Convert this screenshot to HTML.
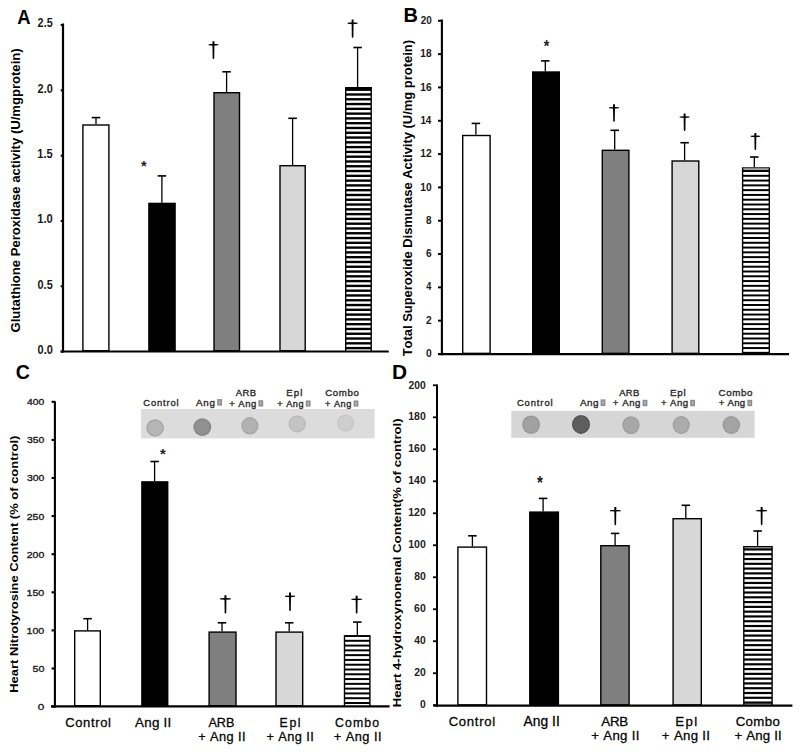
<!DOCTYPE html>
<html><head><meta charset="utf-8"><style>
html,body{margin:0;padding:0;background:#fff;}
body{width:800px;height:752px;position:relative;overflow:hidden;font-family:"Liberation Sans",sans-serif;}
</style></head><body>
<svg width="800" height="752" viewBox="0 0 800 752" style="position:absolute;left:0;top:0;font-family:'Liberation Sans',sans-serif;font-kerning:none">
<rect width="800" height="752" fill="#fff"/>
<defs><filter id="soft" x="-20%" y="-20%" width="140%" height="140%"><feGaussianBlur stdDeviation="0.7"/></filter></defs>
<text transform="translate(37.62,27.30) scale(0.902,1)" font-size="12.03" font-weight="bold" fill="#1a1a1a" >2.5</text>
<text transform="translate(37.62,92.62) scale(0.911,1)" font-size="12.03" font-weight="bold" fill="#1a1a1a" >2.0</text>
<text transform="translate(37.30,157.94) scale(0.908,1)" font-size="12.21" font-weight="bold" fill="#1a1a1a" >1.5</text>
<text transform="translate(37.29,223.26) scale(0.931,1)" font-size="12.03" font-weight="bold" fill="#1a1a1a" >1.0</text>
<text transform="translate(37.57,288.58) scale(0.905,1)" font-size="12.03" font-weight="bold" fill="#1a1a1a" >0.5</text>
<text transform="translate(37.57,353.90) scale(0.914,1)" font-size="12.03" font-weight="bold" fill="#1a1a1a" >0.0</text>
<text transform="translate(17.14,24.20) scale(0.908,1)" font-size="20.35" font-weight="bold" fill="#000" >A</text>
<text transform="translate(20.42,332.54) rotate(-90) scale(1.076,1)" font-size="12.17" font-weight="bold" fill="#000">Glutathione Peroxidase activity (U/mgprotein)</text>
<rect x="82.90" y="125.00" width="26.00" height="225.80" fill="#fff" stroke="#000" stroke-width="1.4"/>
<line x1="96.00" y1="117.60" x2="96.00" y2="124.30" stroke="#000" stroke-width="1.3"/>
<line x1="91.75" y1="117.60" x2="100.25" y2="117.60" stroke="#000" stroke-width="1.6"/>
<rect x="148.90" y="203.40" width="26.20" height="147.40" fill="#000" stroke="#000" stroke-width="1.4"/>
<line x1="161.90" y1="175.90" x2="161.90" y2="202.70" stroke="#000" stroke-width="1.3"/>
<line x1="157.65" y1="175.90" x2="166.15" y2="175.90" stroke="#000" stroke-width="1.6"/>
<rect x="214.00" y="92.70" width="25.50" height="258.10" fill="#7f7f7f" stroke="#000" stroke-width="1.4"/>
<line x1="226.60" y1="71.80" x2="226.60" y2="92.00" stroke="#000" stroke-width="1.3"/>
<line x1="222.35" y1="71.80" x2="230.85" y2="71.80" stroke="#000" stroke-width="1.6"/>
<rect x="280.00" y="165.70" width="25.20" height="185.10" fill="#d7d7d7" stroke="#000" stroke-width="1.4"/>
<line x1="292.60" y1="118.30" x2="292.60" y2="165.00" stroke="#000" stroke-width="1.3"/>
<line x1="288.35" y1="118.30" x2="296.85" y2="118.30" stroke="#000" stroke-width="1.6"/>
<rect x="345.00" y="87.00" width="26.90" height="264.50" fill="#000"/>
<rect x="346.40" y="90.90" width="24.10" height="2.40" fill="#fff"/>
<rect x="346.40" y="95.68" width="24.10" height="2.40" fill="#fff"/>
<rect x="346.40" y="100.47" width="24.10" height="2.40" fill="#fff"/>
<rect x="346.40" y="105.25" width="24.10" height="2.40" fill="#fff"/>
<rect x="346.40" y="110.04" width="24.10" height="2.40" fill="#fff"/>
<rect x="346.40" y="114.82" width="24.10" height="2.40" fill="#fff"/>
<rect x="346.40" y="119.61" width="24.10" height="2.40" fill="#fff"/>
<rect x="346.40" y="124.39" width="24.10" height="2.40" fill="#fff"/>
<rect x="346.40" y="129.18" width="24.10" height="2.40" fill="#fff"/>
<rect x="346.40" y="133.96" width="24.10" height="2.40" fill="#fff"/>
<rect x="346.40" y="138.75" width="24.10" height="2.40" fill="#fff"/>
<rect x="346.40" y="143.53" width="24.10" height="2.40" fill="#fff"/>
<rect x="346.40" y="148.32" width="24.10" height="2.40" fill="#fff"/>
<rect x="346.40" y="153.10" width="24.10" height="2.40" fill="#fff"/>
<rect x="346.40" y="157.89" width="24.10" height="2.40" fill="#fff"/>
<rect x="346.40" y="162.67" width="24.10" height="2.40" fill="#fff"/>
<rect x="346.40" y="167.46" width="24.10" height="2.40" fill="#fff"/>
<rect x="346.40" y="172.24" width="24.10" height="2.40" fill="#fff"/>
<rect x="346.40" y="177.03" width="24.10" height="2.40" fill="#fff"/>
<rect x="346.40" y="181.81" width="24.10" height="2.40" fill="#fff"/>
<rect x="346.40" y="186.60" width="24.10" height="2.40" fill="#fff"/>
<rect x="346.40" y="191.38" width="24.10" height="2.40" fill="#fff"/>
<rect x="346.40" y="196.17" width="24.10" height="2.40" fill="#fff"/>
<rect x="346.40" y="200.95" width="24.10" height="2.40" fill="#fff"/>
<rect x="346.40" y="205.74" width="24.10" height="2.40" fill="#fff"/>
<rect x="346.40" y="210.52" width="24.10" height="2.40" fill="#fff"/>
<rect x="346.40" y="215.31" width="24.10" height="2.40" fill="#fff"/>
<rect x="346.40" y="220.09" width="24.10" height="2.40" fill="#fff"/>
<rect x="346.40" y="224.88" width="24.10" height="2.40" fill="#fff"/>
<rect x="346.40" y="229.66" width="24.10" height="2.40" fill="#fff"/>
<rect x="346.40" y="234.45" width="24.10" height="2.40" fill="#fff"/>
<rect x="346.40" y="239.23" width="24.10" height="2.40" fill="#fff"/>
<rect x="346.40" y="244.02" width="24.10" height="2.40" fill="#fff"/>
<rect x="346.40" y="248.80" width="24.10" height="2.40" fill="#fff"/>
<rect x="346.40" y="253.59" width="24.10" height="2.40" fill="#fff"/>
<rect x="346.40" y="258.37" width="24.10" height="2.40" fill="#fff"/>
<rect x="346.40" y="263.16" width="24.10" height="2.40" fill="#fff"/>
<rect x="346.40" y="267.94" width="24.10" height="2.40" fill="#fff"/>
<rect x="346.40" y="272.73" width="24.10" height="2.40" fill="#fff"/>
<rect x="346.40" y="277.51" width="24.10" height="2.40" fill="#fff"/>
<rect x="346.40" y="282.30" width="24.10" height="2.40" fill="#fff"/>
<rect x="346.40" y="287.09" width="24.10" height="2.40" fill="#fff"/>
<rect x="346.40" y="291.87" width="24.10" height="2.40" fill="#fff"/>
<rect x="346.40" y="296.66" width="24.10" height="2.40" fill="#fff"/>
<rect x="346.40" y="301.44" width="24.10" height="2.40" fill="#fff"/>
<rect x="346.40" y="306.23" width="24.10" height="2.40" fill="#fff"/>
<rect x="346.40" y="311.01" width="24.10" height="2.40" fill="#fff"/>
<rect x="346.40" y="315.80" width="24.10" height="2.40" fill="#fff"/>
<rect x="346.40" y="320.58" width="24.10" height="2.40" fill="#fff"/>
<rect x="346.40" y="325.37" width="24.10" height="2.40" fill="#fff"/>
<rect x="346.40" y="330.15" width="24.10" height="2.40" fill="#fff"/>
<rect x="346.40" y="334.94" width="24.10" height="2.40" fill="#fff"/>
<rect x="346.40" y="339.72" width="24.10" height="2.40" fill="#fff"/>
<rect x="346.40" y="344.51" width="24.10" height="2.40" fill="#fff"/>
<rect x="346.40" y="349.29" width="24.10" height="2.21" fill="#fff"/>
<line x1="357.60" y1="47.50" x2="357.60" y2="87.00" stroke="#000" stroke-width="1.3"/>
<line x1="353.35" y1="47.50" x2="361.85" y2="47.50" stroke="#000" stroke-width="1.6"/>
<text transform="translate(140.96,170.59) scale(1.002,1)" font-size="14.51" font-weight="bold" fill="#222" >*</text>
<polygon points="212.45,41.20 214.45,41.20 214.25,57.80 213.90,59.00 213.00,59.00 212.65,57.80" fill="#000"/>
<polygon points="208.60,44.25 213.45,43.87 218.30,44.25 218.30,45.27 213.45,45.65 208.60,45.27" fill="#000"/>
<polygon points="351.60,19.60 353.60,19.60 353.40,36.60 353.05,37.80 352.15,37.80 351.80,36.60" fill="#000"/>
<polygon points="347.60,22.73 352.60,22.35 357.60,22.73 357.60,23.75 352.60,24.13 347.60,23.75" fill="#000"/>
<text transform="translate(420.66,23.90) scale(0.901,1)" font-size="11.03" font-weight="bold" fill="#1a1a1a" >20</text>
<text transform="translate(420.36,57.22) scale(0.917,1)" font-size="11.03" font-weight="bold" fill="#1a1a1a" >18</text>
<text transform="translate(420.36,90.54) scale(0.922,1)" font-size="11.03" font-weight="bold" fill="#1a1a1a" >16</text>
<text transform="translate(420.38,123.86) scale(0.882,1)" font-size="11.19" font-weight="bold" fill="#1a1a1a" >14</text>
<text transform="translate(420.36,157.18) scale(0.925,1)" font-size="11.03" font-weight="bold" fill="#1a1a1a" >12</text>
<text transform="translate(420.36,190.50) scale(0.926,1)" font-size="11.03" font-weight="bold" fill="#1a1a1a" >10</text>
<text transform="translate(426.08,223.82) scale(0.900,1)" font-size="11.03" font-weight="bold" fill="#1a1a1a" >8</text>
<text transform="translate(426.03,257.14) scale(0.919,1)" font-size="11.03" font-weight="bold" fill="#1a1a1a" >6</text>
<text transform="translate(426.26,290.46) scale(0.817,1)" font-size="11.19" font-weight="bold" fill="#1a1a1a" >4</text>
<text transform="translate(426.05,323.78) scale(0.923,1)" font-size="11.03" font-weight="bold" fill="#1a1a1a" >2</text>
<text transform="translate(425.99,357.10) scale(0.934,1)" font-size="11.03" font-weight="bold" fill="#1a1a1a" >0</text>
<text transform="translate(403.46,21.60) scale(1.035,1)" font-size="19.33" font-weight="bold" fill="#000" >B</text>
<text transform="translate(412.18,356.35) rotate(-90) scale(1.046,1)" font-size="12.39" font-weight="bold" fill="#000">Total Superoxide Dismutase Activity (U/mg protein)</text>
<rect x="462.70" y="135.50" width="27.40" height="217.85" fill="#fff" stroke="#000" stroke-width="1.4"/>
<line x1="475.90" y1="123.40" x2="475.90" y2="134.80" stroke="#000" stroke-width="1.3"/>
<line x1="471.65" y1="123.40" x2="480.15" y2="123.40" stroke="#000" stroke-width="1.6"/>
<rect x="532.70" y="72.00" width="26.60" height="281.35" fill="#000" stroke="#000" stroke-width="1.4"/>
<line x1="545.30" y1="60.90" x2="545.30" y2="71.30" stroke="#000" stroke-width="1.3"/>
<line x1="541.05" y1="60.90" x2="549.55" y2="60.90" stroke="#000" stroke-width="1.6"/>
<rect x="602.30" y="150.30" width="26.60" height="203.05" fill="#7f7f7f" stroke="#000" stroke-width="1.4"/>
<line x1="614.70" y1="130.30" x2="614.70" y2="149.60" stroke="#000" stroke-width="1.3"/>
<line x1="610.45" y1="130.30" x2="618.95" y2="130.30" stroke="#000" stroke-width="1.6"/>
<rect x="672.10" y="161.00" width="26.70" height="192.35" fill="#d7d7d7" stroke="#000" stroke-width="1.4"/>
<line x1="684.60" y1="142.70" x2="684.60" y2="160.30" stroke="#000" stroke-width="1.3"/>
<line x1="680.35" y1="142.70" x2="688.85" y2="142.70" stroke="#000" stroke-width="1.6"/>
<rect x="741.90" y="167.30" width="28.10" height="186.75" fill="#000"/>
<rect x="743.30" y="168.20" width="25.30" height="1.81" fill="#a8a8a8"/>
<rect x="743.30" y="172.00" width="25.30" height="2.80" fill="#fff"/>
<rect x="743.30" y="176.78" width="25.30" height="2.80" fill="#fff"/>
<rect x="743.30" y="181.57" width="25.30" height="2.80" fill="#fff"/>
<rect x="743.30" y="186.35" width="25.30" height="2.80" fill="#fff"/>
<rect x="743.30" y="191.14" width="25.30" height="2.80" fill="#fff"/>
<rect x="743.30" y="195.92" width="25.30" height="2.80" fill="#fff"/>
<rect x="743.30" y="200.71" width="25.30" height="2.80" fill="#fff"/>
<rect x="743.30" y="205.49" width="25.30" height="2.80" fill="#fff"/>
<rect x="743.30" y="210.28" width="25.30" height="2.80" fill="#fff"/>
<rect x="743.30" y="215.06" width="25.30" height="2.80" fill="#fff"/>
<rect x="743.30" y="219.85" width="25.30" height="2.80" fill="#fff"/>
<rect x="743.30" y="224.63" width="25.30" height="2.80" fill="#fff"/>
<rect x="743.30" y="229.42" width="25.30" height="2.80" fill="#fff"/>
<rect x="743.30" y="234.20" width="25.30" height="2.80" fill="#fff"/>
<rect x="743.30" y="238.99" width="25.30" height="2.80" fill="#fff"/>
<rect x="743.30" y="243.77" width="25.30" height="2.80" fill="#fff"/>
<rect x="743.30" y="248.56" width="25.30" height="2.80" fill="#fff"/>
<rect x="743.30" y="253.34" width="25.30" height="2.80" fill="#fff"/>
<rect x="743.30" y="258.13" width="25.30" height="2.80" fill="#fff"/>
<rect x="743.30" y="262.92" width="25.30" height="2.80" fill="#fff"/>
<rect x="743.30" y="267.70" width="25.30" height="2.80" fill="#fff"/>
<rect x="743.30" y="272.49" width="25.30" height="2.80" fill="#fff"/>
<rect x="743.30" y="277.27" width="25.30" height="2.80" fill="#fff"/>
<rect x="743.30" y="282.06" width="25.30" height="2.80" fill="#fff"/>
<rect x="743.30" y="286.84" width="25.30" height="2.80" fill="#fff"/>
<rect x="743.30" y="291.63" width="25.30" height="2.80" fill="#fff"/>
<rect x="743.30" y="296.41" width="25.30" height="2.80" fill="#fff"/>
<rect x="743.30" y="301.20" width="25.30" height="2.80" fill="#fff"/>
<rect x="743.30" y="305.98" width="25.30" height="2.80" fill="#fff"/>
<rect x="743.30" y="310.77" width="25.30" height="2.80" fill="#fff"/>
<rect x="743.30" y="315.55" width="25.30" height="2.80" fill="#fff"/>
<rect x="743.30" y="320.34" width="25.30" height="2.80" fill="#fff"/>
<rect x="743.30" y="325.12" width="25.30" height="2.80" fill="#fff"/>
<rect x="743.30" y="329.91" width="25.30" height="2.80" fill="#fff"/>
<rect x="743.30" y="334.69" width="25.30" height="2.80" fill="#fff"/>
<rect x="743.30" y="339.48" width="25.30" height="2.80" fill="#fff"/>
<rect x="743.30" y="344.26" width="25.30" height="2.80" fill="#fff"/>
<rect x="743.30" y="349.05" width="25.30" height="2.80" fill="#fff"/>
<rect x="743.30" y="353.83" width="25.30" height="0.22" fill="#a8a8a8"/>
<line x1="754.30" y1="157.00" x2="754.30" y2="167.30" stroke="#000" stroke-width="1.3"/>
<line x1="750.05" y1="157.00" x2="758.55" y2="157.00" stroke="#000" stroke-width="1.6"/>
<text transform="translate(543.76,51.69) scale(0.885,1)" font-size="16.13" font-weight="bold" fill="#222" >*</text>
<polygon points="613.00,104.30 615.00,104.30 614.80,120.60 614.45,121.80 613.55,121.80 613.20,120.60" fill="#000"/>
<polygon points="609.00,107.29 614.00,106.91 619.00,107.29 619.00,108.31 614.00,108.69 609.00,108.31" fill="#000"/>
<polygon points="683.60,113.60 685.60,113.60 685.40,129.70 685.05,130.90 684.15,130.90 683.80,129.70" fill="#000"/>
<polygon points="679.70,116.55 684.60,116.17 689.50,116.55 689.50,117.57 684.60,117.95 679.70,117.57" fill="#000"/>
<polygon points="754.35,132.90 756.35,132.90 756.15,148.90 755.80,150.10 754.90,150.10 754.55,148.90" fill="#000"/>
<polygon points="750.60,135.83 755.35,135.45 760.10,135.83 760.10,136.85 755.35,137.23 750.60,136.85" fill="#000"/>
<text transform="translate(27.06,405.20) scale(1.061,1)" font-size="9.74" font-weight="normal" fill="#1a1a1a" stroke="#1a1a1a" stroke-width="0.35">400</text>
<text transform="translate(26.90,443.30) scale(1.071,1)" font-size="9.74" font-weight="normal" fill="#1a1a1a" stroke="#1a1a1a" stroke-width="0.35">350</text>
<text transform="translate(26.90,481.40) scale(1.071,1)" font-size="9.74" font-weight="normal" fill="#1a1a1a" stroke="#1a1a1a" stroke-width="0.35">300</text>
<text transform="translate(26.77,519.50) scale(1.079,1)" font-size="9.74" font-weight="normal" fill="#1a1a1a" stroke="#1a1a1a" stroke-width="0.35">250</text>
<text transform="translate(26.77,557.60) scale(1.079,1)" font-size="9.74" font-weight="normal" fill="#1a1a1a" stroke="#1a1a1a" stroke-width="0.35">200</text>
<text transform="translate(26.49,595.70) scale(1.097,1)" font-size="9.74" font-weight="normal" fill="#1a1a1a" stroke="#1a1a1a" stroke-width="0.35">150</text>
<text transform="translate(26.49,633.80) scale(1.097,1)" font-size="9.74" font-weight="normal" fill="#1a1a1a" stroke="#1a1a1a" stroke-width="0.35">100</text>
<text transform="translate(32.47,671.90) scale(1.093,1)" font-size="9.74" font-weight="normal" fill="#1a1a1a" stroke="#1a1a1a" stroke-width="0.35">50</text>
<text transform="translate(37.84,710.00) scale(1.203,1)" font-size="9.74" font-weight="normal" fill="#1a1a1a" stroke="#1a1a1a" stroke-width="0.35">0</text>
<text transform="translate(15.70,379.00) scale(0.976,1)" font-size="20.05" font-weight="bold" fill="#000" >C</text>
<text transform="translate(18.48,692.87) rotate(-90) scale(1.164,1)" font-size="11.16" font-weight="bold" fill="#000">Heart Nitrotyrosine Content (% of control)</text>
<rect x="74.70" y="630.90" width="25.60" height="74.80" fill="#fff" stroke="#000" stroke-width="1.4"/>
<line x1="87.60" y1="618.70" x2="87.60" y2="630.20" stroke="#000" stroke-width="1.3"/>
<line x1="83.35" y1="618.70" x2="91.85" y2="618.70" stroke="#000" stroke-width="1.6"/>
<rect x="141.90" y="481.90" width="25.80" height="223.80" fill="#000" stroke="#000" stroke-width="1.4"/>
<line x1="154.60" y1="461.50" x2="154.60" y2="481.20" stroke="#000" stroke-width="1.3"/>
<line x1="150.35" y1="461.50" x2="158.85" y2="461.50" stroke="#000" stroke-width="1.6"/>
<rect x="209.10" y="632.10" width="26.90" height="73.60" fill="#7f7f7f" stroke="#000" stroke-width="1.4"/>
<line x1="222.00" y1="622.80" x2="222.00" y2="631.40" stroke="#000" stroke-width="1.3"/>
<line x1="217.75" y1="622.80" x2="226.25" y2="622.80" stroke="#000" stroke-width="1.6"/>
<rect x="276.00" y="632.10" width="26.70" height="73.60" fill="#d7d7d7" stroke="#000" stroke-width="1.4"/>
<line x1="289.20" y1="622.80" x2="289.20" y2="631.40" stroke="#000" stroke-width="1.3"/>
<line x1="284.95" y1="622.80" x2="293.45" y2="622.80" stroke="#000" stroke-width="1.6"/>
<rect x="343.80" y="635.05" width="26.80" height="71.35" fill="#000"/>
<rect x="345.20" y="637.00" width="24.00" height="2.80" fill="#fff"/>
<rect x="345.20" y="641.78" width="24.00" height="2.80" fill="#fff"/>
<rect x="345.20" y="646.57" width="24.00" height="2.80" fill="#fff"/>
<rect x="345.20" y="651.35" width="24.00" height="2.80" fill="#fff"/>
<rect x="345.20" y="656.14" width="24.00" height="2.80" fill="#fff"/>
<rect x="345.20" y="660.92" width="24.00" height="2.80" fill="#fff"/>
<rect x="345.20" y="665.71" width="24.00" height="2.80" fill="#fff"/>
<rect x="345.20" y="670.49" width="24.00" height="2.80" fill="#fff"/>
<rect x="345.20" y="675.28" width="24.00" height="2.80" fill="#fff"/>
<rect x="345.20" y="680.06" width="24.00" height="2.80" fill="#fff"/>
<rect x="345.20" y="684.85" width="24.00" height="2.80" fill="#fff"/>
<rect x="345.20" y="689.63" width="24.00" height="2.80" fill="#fff"/>
<rect x="345.20" y="694.42" width="24.00" height="2.80" fill="#fff"/>
<rect x="345.20" y="699.20" width="24.00" height="2.80" fill="#fff"/>
<rect x="345.20" y="703.99" width="24.00" height="2.41" fill="#fff"/>
<line x1="357.30" y1="622.10" x2="357.30" y2="635.05" stroke="#000" stroke-width="1.3"/>
<line x1="353.05" y1="622.10" x2="361.55" y2="622.10" stroke="#000" stroke-width="1.6"/>
<text transform="translate(159.96,458.93) scale(1.060,1)" font-size="13.71" font-weight="bold" fill="#222" >*</text>
<polygon points="224.45,595.20 226.45,595.20 226.25,612.40 225.90,613.60 225.00,613.60 224.65,612.40" fill="#000"/>
<polygon points="220.20,598.37 225.45,597.99 230.70,598.37 230.70,599.39 225.45,599.77 220.20,599.39" fill="#000"/>
<polygon points="289.00,592.60 291.00,592.60 290.80,609.80 290.45,611.00 289.55,611.00 289.20,609.80" fill="#000"/>
<polygon points="285.00,595.77 290.00,595.39 295.00,595.77 295.00,596.79 290.00,597.17 285.00,596.79" fill="#000"/>
<polygon points="355.65,595.70 357.65,595.70 357.45,612.40 357.10,613.60 356.20,613.60 355.85,612.40" fill="#000"/>
<polygon points="351.40,598.77 356.65,598.39 361.90,598.77 361.90,599.79 356.65,600.17 351.40,599.79" fill="#000"/>
<text transform="translate(408.54,388.50) scale(0.972,1)" font-size="10.60" font-weight="bold" fill="#222" >200</text>
<text transform="translate(408.24,420.49) scale(0.989,1)" font-size="10.60" font-weight="bold" fill="#222" >180</text>
<text transform="translate(408.24,452.48) scale(0.989,1)" font-size="10.60" font-weight="bold" fill="#222" >160</text>
<text transform="translate(408.24,484.47) scale(0.989,1)" font-size="10.60" font-weight="bold" fill="#222" >140</text>
<text transform="translate(408.24,516.46) scale(0.989,1)" font-size="10.60" font-weight="bold" fill="#222" >120</text>
<text transform="translate(408.24,548.45) scale(0.989,1)" font-size="10.60" font-weight="bold" fill="#222" >100</text>
<text transform="translate(414.17,580.44) scale(0.980,1)" font-size="10.60" font-weight="bold" fill="#222" >80</text>
<text transform="translate(414.12,612.43) scale(0.985,1)" font-size="10.60" font-weight="bold" fill="#222" >60</text>
<text transform="translate(414.35,644.42) scale(0.965,1)" font-size="10.60" font-weight="bold" fill="#222" >40</text>
<text transform="translate(414.14,676.41) scale(0.983,1)" font-size="10.60" font-weight="bold" fill="#222" >20</text>
<text transform="translate(419.99,708.40) scale(0.972,1)" font-size="10.60" font-weight="bold" fill="#222" >0</text>
<text transform="translate(392.10,378.90) scale(1.056,1)" font-size="19.77" font-weight="bold" fill="#000" >D</text>
<text transform="translate(400.55,707.28) rotate(-90) scale(1.116,1)" font-size="11.80" font-weight="bold" fill="#000">Heart 4-hydroxynonenal Content(% of control)</text>
<rect x="457.90" y="547.10" width="28.60" height="157.80" fill="#fff" stroke="#000" stroke-width="1.4"/>
<line x1="472.40" y1="535.80" x2="472.40" y2="546.40" stroke="#000" stroke-width="1.3"/>
<line x1="468.15" y1="535.80" x2="476.65" y2="535.80" stroke="#000" stroke-width="1.6"/>
<rect x="529.80" y="512.10" width="28.60" height="192.80" fill="#000" stroke="#000" stroke-width="1.4"/>
<line x1="543.10" y1="498.40" x2="543.10" y2="511.40" stroke="#000" stroke-width="1.3"/>
<line x1="538.85" y1="498.40" x2="547.35" y2="498.40" stroke="#000" stroke-width="1.6"/>
<rect x="600.80" y="545.70" width="28.30" height="159.20" fill="#7f7f7f" stroke="#000" stroke-width="1.4"/>
<line x1="615.10" y1="533.40" x2="615.10" y2="545.00" stroke="#000" stroke-width="1.3"/>
<line x1="610.85" y1="533.40" x2="619.35" y2="533.40" stroke="#000" stroke-width="1.6"/>
<rect x="673.10" y="518.70" width="28.20" height="186.20" fill="#d7d7d7" stroke="#000" stroke-width="1.4"/>
<line x1="685.80" y1="505.30" x2="685.80" y2="518.00" stroke="#000" stroke-width="1.3"/>
<line x1="681.55" y1="505.30" x2="690.05" y2="505.30" stroke="#000" stroke-width="1.6"/>
<rect x="743.10" y="546.00" width="29.70" height="159.60" fill="#000"/>
<rect x="744.50" y="547.20" width="26.90" height="1.16" fill="#a8a8a8"/>
<rect x="744.50" y="550.55" width="26.90" height="2.60" fill="#fff"/>
<rect x="744.50" y="555.34" width="26.90" height="2.60" fill="#fff"/>
<rect x="744.50" y="560.12" width="26.90" height="2.60" fill="#fff"/>
<rect x="744.50" y="564.90" width="26.90" height="2.60" fill="#fff"/>
<rect x="744.50" y="569.69" width="26.90" height="2.60" fill="#fff"/>
<rect x="744.50" y="574.47" width="26.90" height="2.60" fill="#fff"/>
<rect x="744.50" y="579.26" width="26.90" height="2.60" fill="#fff"/>
<rect x="744.50" y="584.04" width="26.90" height="2.60" fill="#fff"/>
<rect x="744.50" y="588.83" width="26.90" height="2.60" fill="#fff"/>
<rect x="744.50" y="593.61" width="26.90" height="2.60" fill="#fff"/>
<rect x="744.50" y="598.40" width="26.90" height="2.60" fill="#fff"/>
<rect x="744.50" y="603.18" width="26.90" height="2.60" fill="#fff"/>
<rect x="744.50" y="607.97" width="26.90" height="2.60" fill="#fff"/>
<rect x="744.50" y="612.75" width="26.90" height="2.60" fill="#fff"/>
<rect x="744.50" y="617.54" width="26.90" height="2.60" fill="#fff"/>
<rect x="744.50" y="622.32" width="26.90" height="2.60" fill="#fff"/>
<rect x="744.50" y="627.11" width="26.90" height="2.60" fill="#fff"/>
<rect x="744.50" y="631.89" width="26.90" height="2.60" fill="#fff"/>
<rect x="744.50" y="636.68" width="26.90" height="2.60" fill="#fff"/>
<rect x="744.50" y="641.46" width="26.90" height="2.60" fill="#fff"/>
<rect x="744.50" y="646.25" width="26.90" height="2.60" fill="#fff"/>
<rect x="744.50" y="651.03" width="26.90" height="2.60" fill="#fff"/>
<rect x="744.50" y="655.82" width="26.90" height="2.60" fill="#fff"/>
<rect x="744.50" y="660.60" width="26.90" height="2.60" fill="#fff"/>
<rect x="744.50" y="665.39" width="26.90" height="2.60" fill="#fff"/>
<rect x="744.50" y="670.17" width="26.90" height="2.60" fill="#fff"/>
<rect x="744.50" y="674.96" width="26.90" height="2.60" fill="#fff"/>
<rect x="744.50" y="679.74" width="26.90" height="2.60" fill="#fff"/>
<rect x="744.50" y="684.53" width="26.90" height="2.60" fill="#fff"/>
<rect x="744.50" y="689.31" width="26.90" height="2.60" fill="#fff"/>
<rect x="744.50" y="694.10" width="26.90" height="2.60" fill="#fff"/>
<rect x="744.50" y="698.88" width="26.90" height="2.60" fill="#fff"/>
<rect x="744.50" y="703.67" width="26.90" height="1.93" fill="#a8a8a8"/>
<line x1="757.60" y1="531.00" x2="757.60" y2="546.00" stroke="#000" stroke-width="1.3"/>
<line x1="753.35" y1="531.00" x2="761.85" y2="531.00" stroke="#000" stroke-width="1.6"/>
<text transform="translate(536.96,488.50) scale(0.849,1)" font-size="17.74" font-weight="bold" fill="#222" >*</text>
<polygon points="614.30,507.10 616.30,507.10 616.10,524.00 615.75,525.20 614.85,525.20 614.50,524.00" fill="#000"/>
<polygon points="609.90,510.21 615.30,509.83 620.70,510.21 620.70,511.23 615.30,511.61 609.90,511.23" fill="#000"/>
<polygon points="760.65,507.10 762.65,507.10 762.45,524.00 762.10,525.20 761.20,525.20 760.85,524.00" fill="#000"/>
<polygon points="756.20,510.21 761.65,509.83 767.10,510.21 767.10,511.23 761.65,511.61 756.20,511.23" fill="#000"/>
<text x="65.14" y="726.80" font-size="12.97" font-weight="normal" fill="#000" letter-spacing="0.67" stroke="#111" stroke-width="0.3">Control</text>
<text x="135.07" y="726.80" font-size="13.37" font-weight="normal" fill="#000" letter-spacing="0.26" stroke="#111" stroke-width="0.3">Ang II</text>
<text x="208.38" y="726.90" font-size="12.65" font-weight="normal" fill="#000" letter-spacing="0.05" stroke="#111" stroke-width="0.3">ARB</text>
<text x="198.28" y="741.20" font-size="12.79" font-weight="normal" fill="#000" letter-spacing="0.41" stroke="#111" stroke-width="0.3">+ Ang II</text>
<text x="279.59" y="726.90" font-size="12.28" font-weight="normal" fill="#000" letter-spacing="1.64" stroke="#111" stroke-width="0.3">Epl</text>
<text x="266.58" y="741.20" font-size="12.79" font-weight="normal" fill="#000" letter-spacing="0.39" stroke="#111" stroke-width="0.3">+ Ang II</text>
<text x="335.08" y="726.90" font-size="12.28" font-weight="normal" fill="#000" letter-spacing="1.09" stroke="#111" stroke-width="0.3">Combo</text>
<text x="333.78" y="741.20" font-size="12.79" font-weight="normal" fill="#000" letter-spacing="0.47" stroke="#111" stroke-width="0.3">+ Ang II</text>
<text x="448.73" y="725.70" font-size="13.11" font-weight="normal" fill="#000" letter-spacing="0.68" stroke="#111" stroke-width="0.3">Control</text>
<text x="523.57" y="725.70" font-size="13.81" font-weight="normal" fill="#000" letter-spacing="0.04" stroke="#111" stroke-width="0.3">Ang II</text>
<text x="601.17" y="726.00" font-size="13.37" font-weight="normal" fill="#000" letter-spacing="-0.18" stroke="#111" stroke-width="0.3">ARB</text>
<text x="591.35" y="740.10" font-size="13.23" font-weight="normal" fill="#000" letter-spacing="0.30" stroke="#111" stroke-width="0.3">+ Ang II</text>
<text x="675.21" y="726.00" font-size="13.25" font-weight="normal" fill="#000" letter-spacing="1.41" stroke="#111" stroke-width="0.3">Epl</text>
<text x="661.85" y="740.10" font-size="13.23" font-weight="normal" fill="#000" letter-spacing="0.32" stroke="#111" stroke-width="0.3">+ Ang II</text>
<text x="735.63" y="726.00" font-size="13.25" font-weight="normal" fill="#000" letter-spacing="0.38" stroke="#111" stroke-width="0.3">Combo</text>
<text x="734.45" y="740.10" font-size="13.23" font-weight="normal" fill="#000" letter-spacing="0.19" stroke="#111" stroke-width="0.3">+ Ang II</text>
<rect x="141.00" y="409.00" width="233.60" height="29.40" fill="#dcdcdc"/>
<defs><radialGradient id="g155"><stop offset="0" stop-color="#b6b6b6"/><stop offset="0.75" stop-color="#b6b6b6"/><stop offset="1" stop-color="#9c9c9c"/></radialGradient></defs>
<ellipse cx="155.1" cy="427.9" rx="8.7" ry="8.7" fill="url(#g155)" filter="url(#soft)"/>
<defs><radialGradient id="g202"><stop offset="0" stop-color="#909090"/><stop offset="0.75" stop-color="#909090"/><stop offset="1" stop-color="#808080"/></radialGradient></defs>
<ellipse cx="202.3" cy="427.1" rx="9.0" ry="8.8" fill="url(#g202)" filter="url(#soft)"/>
<defs><radialGradient id="g249"><stop offset="0" stop-color="#b2b2b2"/><stop offset="0.75" stop-color="#b2b2b2"/><stop offset="1" stop-color="#a0a0a0"/></radialGradient></defs>
<ellipse cx="249.9" cy="425.8" rx="8.6" ry="8.7" fill="url(#g249)" filter="url(#soft)"/>
<defs><radialGradient id="g297"><stop offset="0" stop-color="#c4c4c4"/><stop offset="0.75" stop-color="#c4c4c4"/><stop offset="1" stop-color="#b4b4b4"/></radialGradient></defs>
<ellipse cx="297.2" cy="424.0" rx="8.6" ry="8.4" fill="url(#g297)" filter="url(#soft)"/>
<defs><radialGradient id="g345"><stop offset="0" stop-color="#cecece"/><stop offset="0.75" stop-color="#cecece"/><stop offset="1" stop-color="#c2c2c2"/></radialGradient></defs>
<ellipse cx="345.6" cy="423.0" rx="8.6" ry="8.6" fill="url(#g345)" filter="url(#soft)"/>
<text x="143.32" y="405.80" font-size="9.38" font-weight="normal" fill="#2a2a2a" letter-spacing="0.84" stroke="#2a2a2a" stroke-width="0.35">Control</text>
<text x="235.78" y="396.00" font-size="9.45" font-weight="normal" fill="#2a2a2a" letter-spacing="0.45" stroke="#2a2a2a" stroke-width="0.35">ARB</text>
<text x="286.21" y="396.00" font-size="9.66" font-weight="normal" fill="#2a2a2a" letter-spacing="1.14" stroke="#2a2a2a" stroke-width="0.35">Epl</text>
<text x="325.21" y="396.00" font-size="9.66" font-weight="normal" fill="#2a2a2a" letter-spacing="0.66" stroke="#2a2a2a" stroke-width="0.35">Combo</text>
<text x="195.98" y="405.60" font-size="9.74" font-weight="normal" fill="#2a2a2a" letter-spacing="0.86" stroke="#2a2a2a" stroke-width="0.35">Ang</text>
<rect x="217.20" y="399.10" width="4.80" height="6.50" fill="#8c8c8c"/>
<rect x="218.70" y="400.50" width="1.80" height="3.70" fill="#b0b0b0"/>
<text x="229.14" y="406.50" font-size="9.45" font-weight="normal" fill="#2a2a2a" letter-spacing="0.53" stroke="#2a2a2a" stroke-width="0.35">+ Ang</text>
<rect x="258.40" y="400.20" width="4.80" height="6.30" fill="#8c8c8c"/>
<rect x="259.90" y="401.60" width="1.80" height="3.50" fill="#b0b0b0"/>
<text x="277.35" y="406.60" font-size="9.16" font-weight="normal" fill="#2a2a2a" letter-spacing="0.51" stroke="#2a2a2a" stroke-width="0.35">+ Ang</text>
<rect x="305.80" y="400.50" width="4.80" height="6.10" fill="#8c8c8c"/>
<rect x="307.30" y="401.90" width="1.80" height="3.30" fill="#b0b0b0"/>
<text x="324.95" y="406.60" font-size="9.16" font-weight="normal" fill="#2a2a2a" letter-spacing="0.56" stroke="#2a2a2a" stroke-width="0.35">+ Ang</text>
<rect x="353.60" y="400.50" width="4.80" height="6.10" fill="#8c8c8c"/>
<rect x="355.10" y="401.90" width="1.80" height="3.30" fill="#b0b0b0"/>
<rect x="511.30" y="410.80" width="243.30" height="27.00" fill="#d6d6d6"/>
<defs><radialGradient id="g531"><stop offset="0" stop-color="#a2a2a2"/><stop offset="0.75" stop-color="#a2a2a2"/><stop offset="1" stop-color="#929292"/></radialGradient></defs>
<ellipse cx="531.1" cy="424.7" rx="8.9" ry="9.3" fill="url(#g531)" filter="url(#soft)"/>
<defs><radialGradient id="g581"><stop offset="0" stop-color="#5e5e5e"/><stop offset="0.75" stop-color="#5e5e5e"/><stop offset="1" stop-color="#4e4e4e"/></radialGradient></defs>
<ellipse cx="581.0" cy="424.4" rx="9.0" ry="9.5" fill="url(#g581)" filter="url(#soft)"/>
<defs><radialGradient id="g631"><stop offset="0" stop-color="#a8a8a8"/><stop offset="0.75" stop-color="#a8a8a8"/><stop offset="1" stop-color="#989898"/></radialGradient></defs>
<ellipse cx="631.0" cy="425.1" rx="8.6" ry="8.9" fill="url(#g631)" filter="url(#soft)"/>
<defs><radialGradient id="g681"><stop offset="0" stop-color="#acacac"/><stop offset="0.75" stop-color="#acacac"/><stop offset="1" stop-color="#9c9c9c"/></radialGradient></defs>
<ellipse cx="681.2" cy="425.0" rx="8.6" ry="8.9" fill="url(#g681)" filter="url(#soft)"/>
<defs><radialGradient id="g731"><stop offset="0" stop-color="#a4a4a4"/><stop offset="0.75" stop-color="#a4a4a4"/><stop offset="1" stop-color="#949494"/></radialGradient></defs>
<ellipse cx="731.3" cy="425.0" rx="8.8" ry="9.0" fill="url(#g731)" filter="url(#soft)"/>
<text x="516.92" y="406.00" font-size="9.38" font-weight="normal" fill="#2a2a2a" letter-spacing="0.91" stroke="#2a2a2a" stroke-width="0.35">Control</text>
<text x="619.28" y="395.90" font-size="9.45" font-weight="normal" fill="#2a2a2a" letter-spacing="0.25" stroke="#2a2a2a" stroke-width="0.35">ARB</text>
<text x="670.00" y="395.90" font-size="9.80" font-weight="normal" fill="#2a2a2a" letter-spacing="0.75" stroke="#2a2a2a" stroke-width="0.35">Epl</text>
<text x="718.60" y="395.90" font-size="9.80" font-weight="normal" fill="#2a2a2a" letter-spacing="0.56" stroke="#2a2a2a" stroke-width="0.35">Combo</text>
<text x="579.98" y="406.00" font-size="9.88" font-weight="normal" fill="#2a2a2a" letter-spacing="0.43" stroke="#2a2a2a" stroke-width="0.35">Ang</text>
<rect x="600.60" y="399.40" width="4.80" height="6.60" fill="#8c8c8c"/>
<rect x="602.10" y="400.80" width="1.80" height="3.80" fill="#b0b0b0"/>
<text x="612.73" y="406.20" font-size="9.59" font-weight="normal" fill="#2a2a2a" letter-spacing="0.59" stroke="#2a2a2a" stroke-width="0.35">+ Ang</text>
<rect x="642.60" y="399.80" width="4.80" height="6.40" fill="#8c8c8c"/>
<rect x="644.10" y="401.20" width="1.80" height="3.60" fill="#b0b0b0"/>
<text x="660.93" y="406.20" font-size="9.59" font-weight="normal" fill="#2a2a2a" letter-spacing="0.44" stroke="#2a2a2a" stroke-width="0.35">+ Ang</text>
<rect x="690.20" y="399.80" width="4.80" height="6.40" fill="#8c8c8c"/>
<rect x="691.70" y="401.20" width="1.80" height="3.60" fill="#b0b0b0"/>
<text x="718.63" y="406.20" font-size="9.59" font-weight="normal" fill="#2a2a2a" letter-spacing="0.31" stroke="#2a2a2a" stroke-width="0.35">+ Ang</text>
<rect x="747.40" y="399.80" width="4.80" height="6.40" fill="#8c8c8c"/>
<rect x="748.90" y="401.20" width="1.80" height="3.60" fill="#b0b0b0"/>
<line x1="63.00" y1="23.60" x2="63.00" y2="352.60" stroke="#000" stroke-width="2.2"/>
<line x1="60.60" y1="351.50" x2="388.80" y2="351.50" stroke="#000" stroke-width="2.2"/>
<line x1="60.70" y1="25.00" x2="63.00" y2="25.00" stroke="#000" stroke-width="2.0"/>
<line x1="60.70" y1="90.32" x2="63.00" y2="90.32" stroke="#000" stroke-width="2.0"/>
<line x1="60.70" y1="155.64" x2="63.00" y2="155.64" stroke="#000" stroke-width="2.0"/>
<line x1="60.70" y1="220.96" x2="63.00" y2="220.96" stroke="#000" stroke-width="2.0"/>
<line x1="60.70" y1="286.28" x2="63.00" y2="286.28" stroke="#000" stroke-width="2.0"/>
<line x1="60.70" y1="351.60" x2="63.00" y2="351.60" stroke="#000" stroke-width="2.0"/>
<line x1="441.90" y1="19.60" x2="441.90" y2="355.15" stroke="#000" stroke-width="2.1"/>
<line x1="438.40" y1="354.05" x2="789.10" y2="354.05" stroke="#000" stroke-width="2.2"/>
<line x1="438.05" y1="20.80" x2="441.90" y2="20.80" stroke="#000" stroke-width="2.0"/>
<line x1="438.05" y1="54.12" x2="441.90" y2="54.12" stroke="#000" stroke-width="2.0"/>
<line x1="438.05" y1="87.44" x2="441.90" y2="87.44" stroke="#000" stroke-width="2.0"/>
<line x1="438.05" y1="120.76" x2="441.90" y2="120.76" stroke="#000" stroke-width="2.0"/>
<line x1="438.05" y1="154.08" x2="441.90" y2="154.08" stroke="#000" stroke-width="2.0"/>
<line x1="438.05" y1="187.40" x2="441.90" y2="187.40" stroke="#000" stroke-width="2.0"/>
<line x1="438.05" y1="220.72" x2="441.90" y2="220.72" stroke="#000" stroke-width="2.0"/>
<line x1="438.05" y1="254.04" x2="441.90" y2="254.04" stroke="#000" stroke-width="2.0"/>
<line x1="438.05" y1="287.36" x2="441.90" y2="287.36" stroke="#000" stroke-width="2.0"/>
<line x1="438.05" y1="320.68" x2="441.90" y2="320.68" stroke="#000" stroke-width="2.0"/>
<line x1="438.05" y1="354.00" x2="441.90" y2="354.00" stroke="#000" stroke-width="2.0"/>
<line x1="54.90" y1="401.20" x2="54.90" y2="707.55" stroke="#000" stroke-width="2.1"/>
<line x1="51.00" y1="706.40" x2="389.60" y2="706.40" stroke="#000" stroke-width="2.3"/>
<line x1="51.55" y1="401.80" x2="54.90" y2="401.80" stroke="#000" stroke-width="2.1"/>
<line x1="51.55" y1="439.90" x2="54.90" y2="439.90" stroke="#000" stroke-width="2.1"/>
<line x1="51.55" y1="478.00" x2="54.90" y2="478.00" stroke="#000" stroke-width="2.1"/>
<line x1="51.55" y1="516.10" x2="54.90" y2="516.10" stroke="#000" stroke-width="2.1"/>
<line x1="51.55" y1="554.20" x2="54.90" y2="554.20" stroke="#000" stroke-width="2.1"/>
<line x1="51.55" y1="592.30" x2="54.90" y2="592.30" stroke="#000" stroke-width="2.1"/>
<line x1="51.55" y1="630.40" x2="54.90" y2="630.40" stroke="#000" stroke-width="2.1"/>
<line x1="51.55" y1="668.50" x2="54.90" y2="668.50" stroke="#000" stroke-width="2.1"/>
<line x1="51.55" y1="706.60" x2="54.90" y2="706.60" stroke="#000" stroke-width="2.1"/>
<line x1="437.00" y1="384.40" x2="437.00" y2="706.65" stroke="#000" stroke-width="2.0"/>
<line x1="433.40" y1="705.60" x2="792.40" y2="705.60" stroke="#000" stroke-width="2.1"/>
<line x1="433.00" y1="385.30" x2="437.00" y2="385.30" stroke="#000" stroke-width="1.8"/>
<line x1="433.00" y1="417.29" x2="437.00" y2="417.29" stroke="#000" stroke-width="1.8"/>
<line x1="433.00" y1="449.28" x2="437.00" y2="449.28" stroke="#000" stroke-width="1.8"/>
<line x1="433.00" y1="481.27" x2="437.00" y2="481.27" stroke="#000" stroke-width="1.8"/>
<line x1="433.00" y1="513.26" x2="437.00" y2="513.26" stroke="#000" stroke-width="1.8"/>
<line x1="433.00" y1="545.25" x2="437.00" y2="545.25" stroke="#000" stroke-width="1.8"/>
<line x1="433.00" y1="577.24" x2="437.00" y2="577.24" stroke="#000" stroke-width="1.8"/>
<line x1="433.00" y1="609.23" x2="437.00" y2="609.23" stroke="#000" stroke-width="1.8"/>
<line x1="433.00" y1="641.22" x2="437.00" y2="641.22" stroke="#000" stroke-width="1.8"/>
<line x1="433.00" y1="673.21" x2="437.00" y2="673.21" stroke="#000" stroke-width="1.8"/>
<line x1="433.00" y1="705.20" x2="437.00" y2="705.20" stroke="#000" stroke-width="1.8"/>
</svg>
</body></html>
